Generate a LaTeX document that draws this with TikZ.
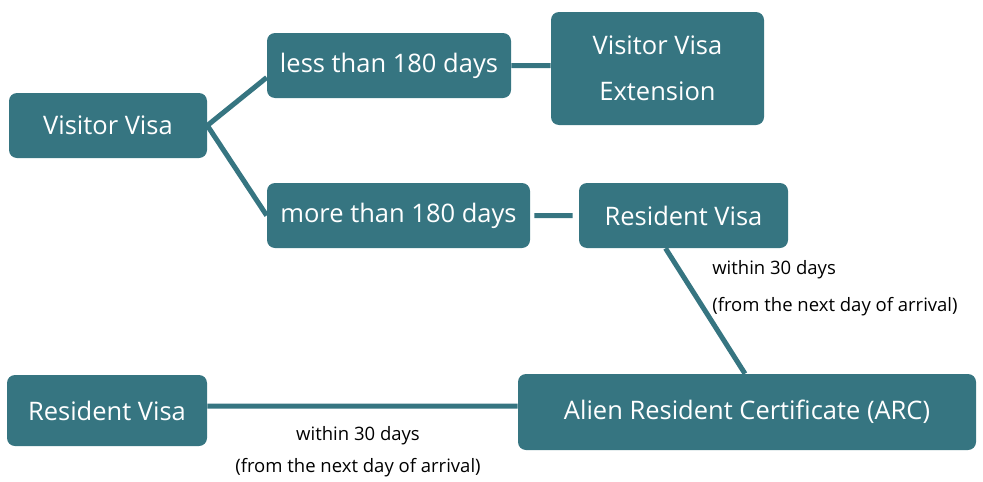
\documentclass[tikz,border=0pt]{standalone}
\usepackage{fontspec}
\setmainfont{Open Sans}
\usepackage{tikz}
\usetikzlibrary{positioning}
\definecolor{visateal}{HTML}{367581}

\begin{document}
\begin{tikzpicture}[x=1pt,y=-1pt,semithick,
  visabox/.style={rectangle,rounded corners=8pt,fill=visateal,draw=none,text=white,
    font=\fontsize{25.5}{30}\selectfont,inner sep=0pt,align=center},
  link/.style={draw=visateal,line width=5pt},
  note/.style={font=\fontsize{18.5}{22}\selectfont,inner sep=0pt}]
 \useasboundingbox (0,0) rectangle (983,482);

 \node[visabox,minimum width=198pt,minimum height=65pt] (visitor) at (108,125.5) {Visitor Visa};
 \node[visabox,minimum width=244pt,minimum height=65pt] (less) at (389,65.5) {less than 180 days};
 \node[visabox,minimum width=213pt,minimum height=113pt] (ext) at (657.5,68.5) {Visitor Visa\\[16pt]Extension};
 \node[visabox,minimum width=263pt,minimum height=65pt] (more) at (398.5,215.5) {more than 180 days};
 \node[visabox,minimum width=209pt,minimum height=65pt] (resA) at (683.5,215.5) {Resident Visa};
 \node[visabox,minimum width=458pt,minimum height=76pt] (arc) at (747,412) {Alien Resident Certificate (ARC)};
 \node[visabox,minimum width=200pt,minimum height=71pt] (resB) at (107,410.5) {Resident Visa};

 \node[note,anchor=west] (noteA1) at (712,270) {within 30 days};
 \node[note,anchor=west] (noteA2) at (712,307) {(from the next day of arrival)};
 \node[note] (noteB1) at (358,436) {within 30 days};
 \node[note] (noteB2) at (358,468) {(from the next day of arrival)};

 \path[link] (visitor.east) -- ([yshift=-12pt]less.west)
             (visitor.east) -- (more.west)
             (less.east) -- (ext.west |- less.east)
             ([xshift=4pt]more.east) -- ([xshift=-6pt]resA.west)
             ([xshift=-18pt]resA.south) -- ([xshift=-2pt]arc.north)
             (arc.west |- 0,406) -- (resB.east |- 0,406);
\end{tikzpicture}
\end{document}
